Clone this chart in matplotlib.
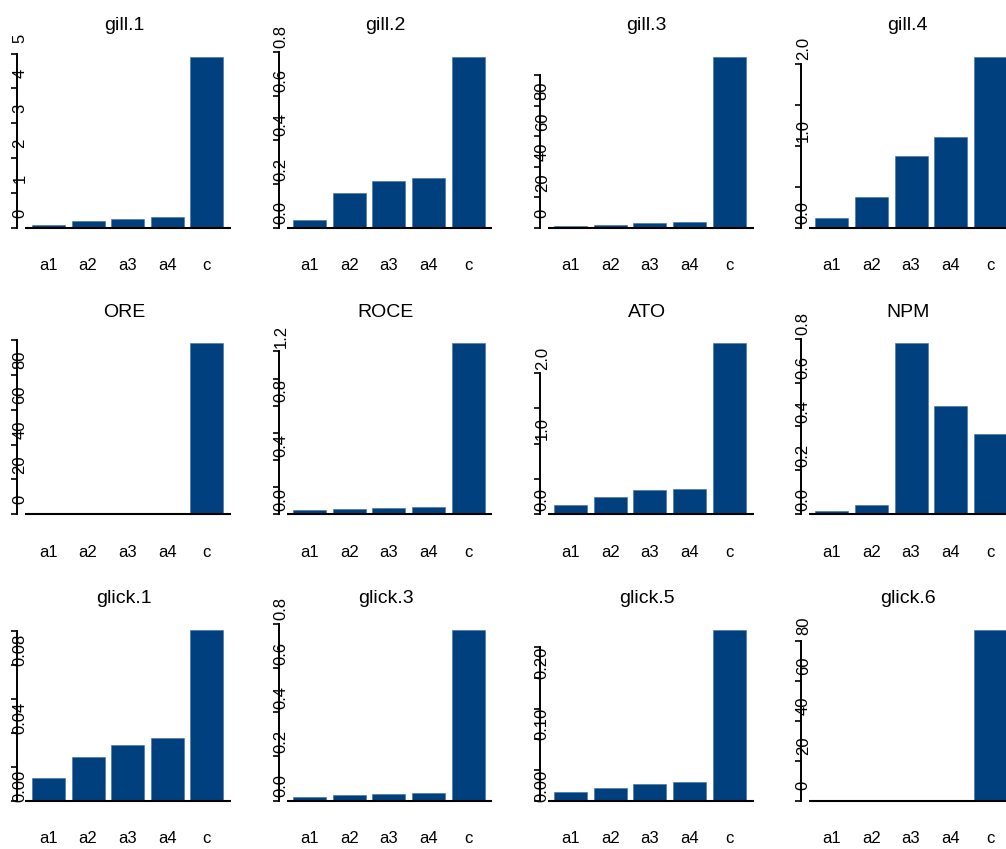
import matplotlib
matplotlib.use('Agg')
import matplotlib.pyplot as plt
from matplotlib.transforms import offset_copy

plt.rcParams['font.family'] = ['Liberation Sans', 'DejaVu Sans']

categories = ['a1', 'a2', 'a3', 'a4', 'c']
titles = ['gill.1', 'gill.2', 'gill.3', 'gill.4',
          'ORE', 'ROCE', 'ATO', 'NPM',
          'glick.1', 'glick.3', 'glick.5', 'glick.6']

gill_1 = [0.09, 0.21, 0.26, 0.31, 4.90]
gill_2 = [0.036, 0.160, 0.215, 0.226, 0.777]
gill_3 = [1.3, 2.0, 3.3, 4.1, 112.0]
gill_4 = [0.12, 0.376, 0.876, 1.107, 2.08]
ore = [0.3, 0.3, 0.3, 0.3, 98.0]
roce = [0.030, 0.042, 0.045, 0.051, 1.26]
ato = [0.127, 0.245, 0.340, 0.363, 2.42]
npm = [0.014, 0.041, 0.779, 0.495, 0.367]
glick_1 = [0.0133, 0.0255, 0.0328, 0.0367, 0.1006]
glick_3 = [0.018, 0.026, 0.030, 0.034, 0.774]
glick_5 = [0.0138, 0.0203, 0.0274, 0.030, 0.279]
glick_6 = [0.3, 0.3, 0.3, 0.3, 85.5]
series = [gill_1, gill_2, gill_3, gill_4, ore, roce, ato, npm,
          glick_1, glick_3, glick_5, glick_6]

# y-axis ticks and their labels ('' = tick without a label)
yticks = [
    [0, 1, 2, 3, 4, 5],
    [0, 0.2, 0.4, 0.6, 0.8],
    [0, 20, 40, 60, 80, 100],
    [0, 0.5, 1.0, 1.5, 2.0],
    [0, 20, 40, 60, 80, 100],
    [0, 0.2, 0.4, 0.6, 0.8, 1.0, 1.2],
    [0, 0.5, 1.0, 1.5, 2.0],
    [0, 0.2, 0.4, 0.6, 0.8],
    [0, 0.02, 0.04, 0.06, 0.08, 0.10],
    [0, 0.2, 0.4, 0.6, 0.8],
    [0, 0.05, 0.10, 0.15, 0.20, 0.25],
    [0, 20, 40, 60, 80],
]
ylabels = [
    ['0', '1', '2', '3', '4', '5'],
    ['0.0', '0.2', '0.4', '0.6', '0.8'],
    ['0', '20', '40', '60', '80', ''],
    ['0.0', '', '1.0', '', '2.0'],
    ['0', '20', '40', '60', '80', ''],
    ['0.0', '', '0.4', '', '0.8', '', '1.2'],
    ['0.0', '', '1.0', '', '2.0'],
    ['0.0', '0.2', '0.4', '0.6', '0.8'],
    ['0.00', '', '0.04', '', '0.08', ''],
    ['0.0', '0.2', '0.4', '0.6', '0.8'],
    ['0.00', '', '0.10', '', '0.20', ''],
    ['0', '20', '40', '60', '80'],
]

BAR = '#00407f'
W, H = 1006, 849
fig = plt.figure(figsize=(W / 100, H / 100), dpi=100)

unit = 33.0            # pixels per bar unit (R barplot: width 1, space 0.2)
xpos = [0.7 + 1.2 * i for i in range(5)]
xmin, xmax = -0.24, 6.24
bar_h = 171.0          # pixel height of the tallest bar

for k, vals in enumerate(series):
    row, col = divmod(k, 4)
    a1c = 48.5 + 261.1 * col
    base = 228 + 286.3 * row
    m = max(vals)
    left = a1c - (xpos[0] - xmin) * unit
    width = (xmax - xmin) * unit
    bottom = base + 0.04 * bar_h
    height = 1.08 * bar_h
    ax = fig.add_axes([left / W, 1 - bottom / H, width / W, height / H])
    ax.set_xlim(xmin, xmax)
    ax.set_ylim(-0.04 * m, 1.04 * m)
    ax.patch.set_visible(False)

    ax.bar(xpos, vals, width=1.0, color=BAR, edgecolor='#3f6d9c', linewidth=0.4)
    ax.plot([0, xmax], [0, 0], color='black', lw=1.5, clip_on=False,
            solid_capstyle='butt')

    for s in ['top', 'right', 'bottom']:
        ax.spines[s].set_visible(False)
    ax.spines['left'].set_bounds(0, yticks[k][-1])
    ax.spines['left'].set_linewidth(1.4)
    ax.set_yticks(yticks[k])
    ax.tick_params(axis='y', length=4, width=1.2, labelleft=False)
    ax.set_xticks([])

    # R draws these labels shifted up and sitting on the axis line
    lab_tr = offset_copy(ax.transData, fig=fig, x=2.5, y=15, units='dots')
    for t, lab in zip(yticks[k], ylabels[k]):
        if lab:
            ax.text(xmin, t, lab, transform=lab_tr, rotation=90,
                    ha='center', va='center', fontsize=12, clip_on=False)

    x_tr = offset_copy(ax.transData, fig=fig, x=0, y=-42.5, units='dots')
    for x, c in zip(xpos, categories):
        ax.text(x, 0, c, transform=x_tr, ha='center', va='baseline',
                fontsize=12, clip_on=False)

    t_tr = offset_copy(ax.transData, fig=fig, x=0, y=197.5, units='dots')
    ax.text((xmin + xmax) / 2, 0, titles[k], transform=t_tr, ha='center',
            va='baseline', fontsize=14, clip_on=False)

fig.savefig('out.png', dpi=100)
